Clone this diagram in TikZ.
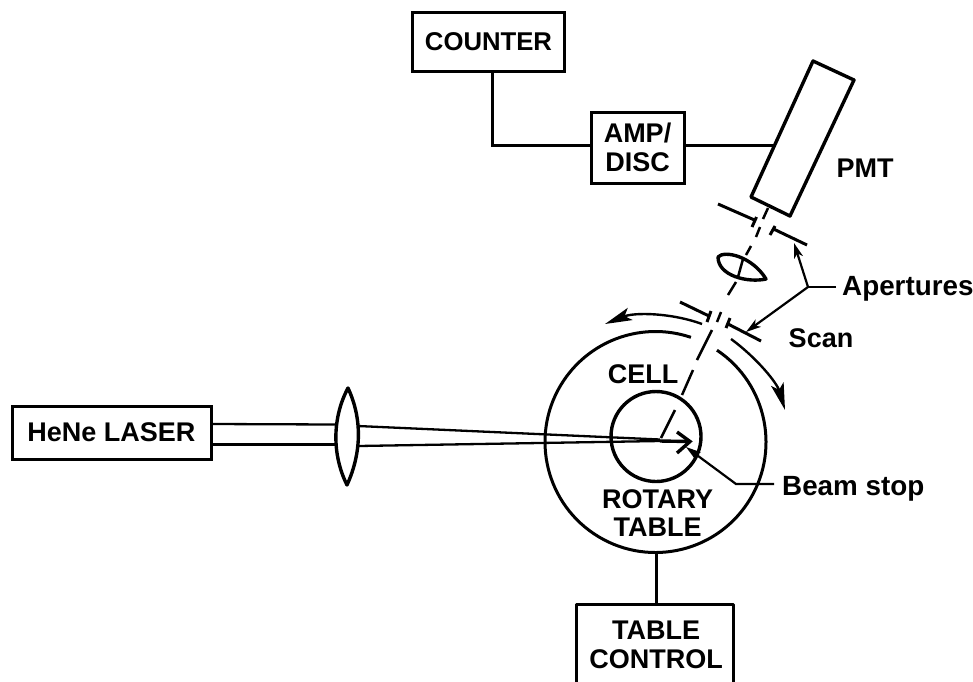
\documentclass[tikz,border=0pt]{standalone}
\usepackage{fontspec}
\setmainfont{Liberation Sans}
\usetikzlibrary{arrows.meta,calc}
\newcommand{\fsz}{\fontsize{27}{29.5}\selectfont}
\tikzset{
  boxn/.style={draw,line width=3pt,inner sep=0pt,align=center,font=\fsz\bfseries},
  lab/.style={inner sep=0pt,align=center,font=\fsz\bfseries},
  wire/.style={line width=3pt},
  thin line/.style={line width=2.3pt},
  optic/.style={line width=3.4pt,line join=round},
  scanarrow/.style={line width=2.4pt,-{Stealth[length=27pt,width=13pt,inset=6pt]}},
  ptr/.style={line width=2.2pt,-{Stealth[length=15pt,width=9pt,inset=4pt]}},
  beamdash/.style={line width=2.5pt},
}
\begin{document}
\begin{tikzpicture}[x=1pt,y=-1pt]
\useasboundingbox (0,0) rectangle (973,681);
% boxes
\node[boxn,minimum width=152pt,minimum height=59pt,font=\fontsize{25.7}{30}\selectfont\bfseries] (counter) at (488.5,41.5) {COUNTER};
\node[boxn,minimum width=93pt,minimum height=71pt] (amp) at (637.5,147.5) {AMP/\\DISC};
\node[boxn,minimum width=199pt,minimum height=53pt] (laser) at (111.5,432.5) {HeNe LASER};
% table control (open at the bottom edge)
\coordinate (tcbl) at (576,684);
\coordinate (tctl) at (576,604);
\coordinate (tctr) at (733,604);
\coordinate (tcbr) at (733,684);
\coordinate (tctop) at (656,604);
\draw[wire,line join=round] (tcbl) -- (tctl) -- (tctr) -- (tcbr);
\node[lab] (tc) at (656,645) {TABLE\\CONTROL};
% PMT
\coordinate (p1) at (813,61);
\coordinate (p2) at (854,80);
\coordinate (p3) at (790,216);
\coordinate (p4) at (751,197);
\draw[optic] (p1) -- (p2) -- (p3) -- (p4) -- cycle;
\node[lab] (pmt) at (865,168) {PMT};
% wiring
\coordinate (j1) at (492,145);
\coordinate (pmtin) at (775,145);
\draw[wire] (counter.south -| j1) -- (j1) -- (j1 -| amp.west);
\draw[wire] (amp.east |- pmtin) -- (pmtin);
% rotary table
\coordinate (tc0) at (655.5,442);
\coordinate (cc0) at (656,436.5);
\draw[wire] ($(tc0)+(-56.2:110.5)$) arc[start angle=-56.2,end angle=288.7,radius=110.5];
\draw[optic] (cc0) circle[radius=45];
\coordinate (tbot) at (656,552.5);
\draw[wire] (tbot) -- (tctop);
\node[lab] (cell) at (643,374) {CELL};
\node[lab,font=\fontsize{27}{28.5}\selectfont\bfseries] (rot) at (657.5,513) {ROTARY\\TABLE};
% detection axis, broken into its dashes
\draw[beamdash]
  (768,208) -- (763,219)
  (760,227) -- (756,237)
  (751,246) -- (746,255)
  (743,259) -- (738,277)
  (736,282) -- (728,295)
  (721,312) -- (717,322)
  (712,330) -- (697,360)
  (693,370) -- (682,395)
  (675,410) -- (661,438);
% apertures
\coordinate (a1a) at (718,204); \coordinate (a1b) at (754.5,220);
\coordinate (a1c) at (756.5,217); \coordinate (a1d) at (752,227);
\coordinate (a2a) at (807,245); \coordinate (a2b) at (773.5,229);
\coordinate (a2c) at (775,226); \coordinate (a2d) at (770,235);
\coordinate (a3a) at (680,302); \coordinate (a3b) at (709,316);
\coordinate (a3c) at (711,311); \coordinate (a3d) at (707,322);
\coordinate (a4a) at (761,341); \coordinate (a4b) at (728,324);
\coordinate (a4c) at (730,318); \coordinate (a4d) at (726,328);
\draw[wire] (a1a) -- (a1b) (a1c) -- (a1d) (a2a) -- (a2b) (a2c) -- (a2d);
\draw[wire] (a3a) -- (a3b) (a3c) -- (a3d) (a4a) -- (a4b) (a4c) -- (a4d);
% small lens
\coordinate (sl1) at (718,257);
\coordinate (sl2) at (766,279);
\draw[optic] (sl1) .. controls (724,250) and (752,256) .. (sl2) .. controls (748,283) and (718,276) .. cycle;
% big lens
\coordinate (bl1) at (348,388);
\coordinate (bl2) at (347,485);
\draw[optic] (bl1) .. controls (362,418) and (362,452) .. (bl2) .. controls (332,455) and (332,418) .. cycle;
% beams
\coordinate (bu) at (660,439.5);
\coordinate (bl) at (660,441);
\coordinate (bt) at (689,441.5);
\draw[thin line] (laser.east |- 0,424) -- (336,424.5);
\draw[thin line] (laser.east |- 0,444.5) -- (336,444.5);
\draw[thin line] (358,426) -- (bu);
\draw[thin line] (358,446) -- (bl);
\draw[line width=3.4pt] (bl) -- (bt);
\draw[line width=3.4pt,line join=miter] (677,432) -- (690,441.5) -- (677,453);
% scan arrows
\draw[scanarrow] (702,324) .. controls (672,313) and (635,312) .. (605,324);
\draw[scanarrow] (731,339) .. controls (757,358) and (777,383) .. (785,410);
\node[lab] (scan) at (821,338) {Scan};
% aperture pointers
\node[lab,anchor=west,font=\fontsize{27.8}{30}\selectfont\bfseries] (apt) at (842,289) {Apertures};
\coordinate (aj) at (808,287);
\coordinate (at1) at (794,243);
\coordinate (at2) at (746,332);
\draw[line width=2.2pt] (836,287) -- (aj);
\draw[ptr] (aj) -- (at1);
\draw[ptr] (aj) -- (at2);
% beam stop
\node[lab,anchor=west,font=\fontsize{27.8}{30}\selectfont\bfseries] (bs) at (782,489) {Beam stop};
\coordinate (bj) at (736,484);
\coordinate (bst) at (686,447);
\coordinate (bsl) at (774,484);
\draw[ptr] (bsl) -- (bj) -- (bst);
\end{tikzpicture}
\end{document}
